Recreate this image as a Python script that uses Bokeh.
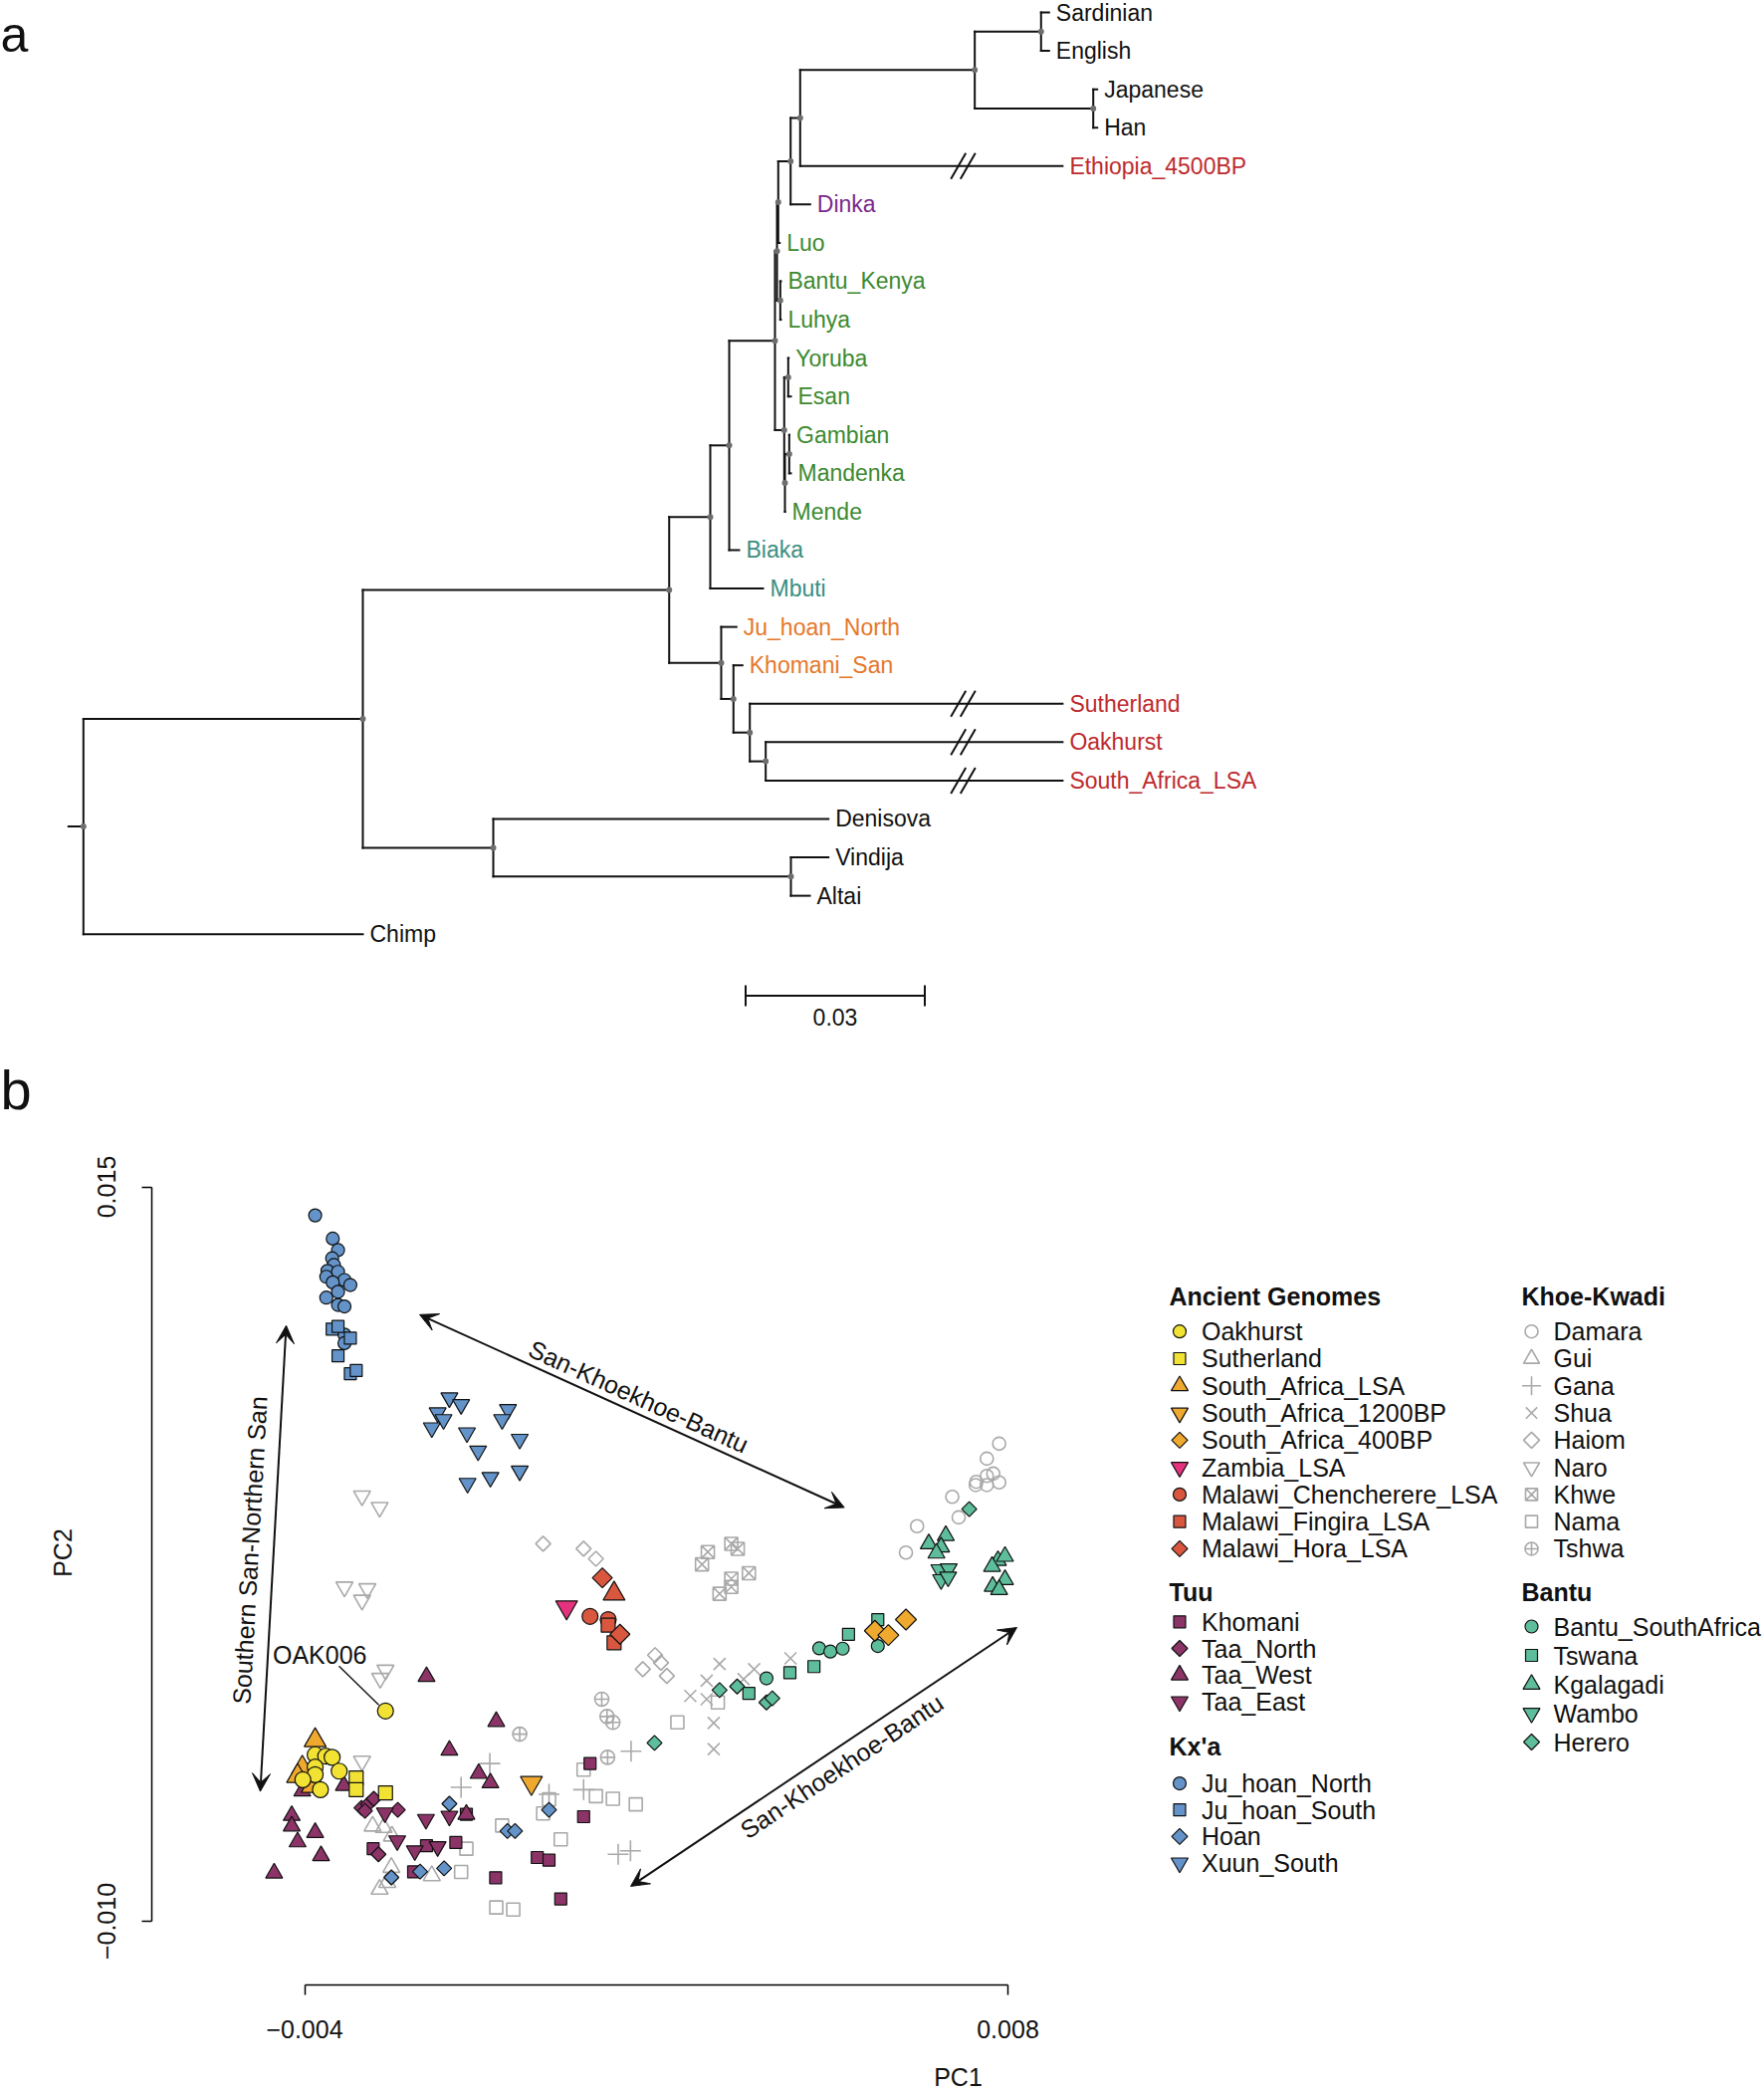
import math
from bokeh.plotting import figure
from bokeh.models import (Range1d, LinearAxis, FixedTicker, CustomJSTickFormatter,
                          Arrow, VeeHead, Label, ColumnDataSource)
from bokeh.embed import file_html
from bokeh.resources import INLINE
from bokeh.core.properties import value

FONT = "Liberation Sans"
PAGE_W = 1772
HA, HB = 1125, 978

# ======================= panel a : tree data =======================
TIPS = ["Sardinian", "English", "Japanese", "Han", "Ethiopia_4500BP", "Dinka",
        "Luo", "Bantu_Kenya", "Luhya", "Yoruba", "Esan", "Gambian", "Mandenka",
        "Mende", "Biaka", "Mbuti", "Ju_hoan_North", "Khomani_San", "Sutherland",
        "Oakhurst", "South_Africa_LSA", "Denisova", "Vindija", "Altai", "Chimp"]
TIP_CLASS = (["eurasian"] * 4 + ["ancient", "nilotic"] + ["bantu_wa"] * 8 +
             ["pygmy"] * 2 + ["khoesan"] * 2 + ["ancient"] * 3 + ["archaic"] * 4)
# (parent, child, branch length)
EDGES = [
    ("root", "A", 0.04678), ("root", "Chimp", 0.04678),
    ("A", "Modern", 0.05129), ("A", "Archaic", 0.02184),
    ("Archaic", "Denisova", 0.05611), ("Archaic", "VA", 0.04983),
    ("VA", "Vindija", 0.00628), ("VA", "Altai", 0.00317),
    ("Modern", "X", 0.00688), ("Modern", "K", 0.00871),
    ("X", "Y", 0.00317), ("X", "Mbuti", 0.00883),
    ("Y", "Z", 0.00766), ("Y", "Biaka", 0.00166),
    ("Z", "E", 0.00034), ("Z", "W", 0.00155),
    ("E", "N1", 0.00021), ("E", "BKL", 0.00055),
    ("N1", "N2", 0.00207), ("N1", "Luo", 0.00024),
    ("N2", "N3", 0.00160), ("N2", "Dinka", 0.00327),
    ("N3", "Eur", 0.02923), ("N3", "Ethiopia_4500BP", 0.04393),
    ("Eur", "SE", 0.01110), ("Eur", "JH", 0.01984),
    ("SE", "Sardinian", 0.00134), ("SE", "English", 0.00134),
    ("JH", "Japanese", 0.00066), ("JH", "Han", 0.00066),
    ("BKL", "Bantu_Kenya", 0.00011), ("BKL", "Luhya", 0.00011),
    ("W", "YE", 0.00067), ("W", "GMM", 0.00012),
    ("YE", "Yoruba", 0.00007), ("YE", "Esan", 0.00045),
    ("GMM", "GM", 0.00072), ("GMM", "Mende", 0.00002),
    ("GM", "Gambian", 0.00003), ("GM", "Mandenka", 0.00028),
    ("K", "Ju_hoan_North", 0.00255), ("K", "K2", 0.00205),
    ("K2", "Khomani_San", 0.00150), ("K2", "K3", 0.00274),
    ("K3", "Sutherland", 0.05236), ("K3", "K4", 0.00266),
    ("K4", "Oakhurst", 0.04970), ("K4", "South_Africa_LSA", 0.04970),
]
TRUNCATED = ["Ethiopia_4500BP", "Sutherland", "Oakhurst", "South_Africa_LSA"]
ROOT_EDGE = 0.0025
SCALE_BAR = 0.03

CLASS_COLOR = {"eurasian": "#111111", "archaic": "#111111", "ancient": "#BE2A2E",
               "nilotic": "#7A2A8C", "bantu_wa": "#3C8A30", "pygmy": "#3A8E80",
               "khoesan": "#E5782B"}

# ======================= panel b : PCA data (units of 1e-3) =======================
OAKHURST_PC1 = [-3.82, -3.64, -3.53, -3.82, -3.82, -4.03, -3.73, -3.41, -2.62]
OAKHURST_PC2 = [-4.33, -4.38, -4.42, -4.75, -5.01, -5.18, -5.52, -4.89, -2.84]
SUTHERLAND_PC1 = [-3.12, -3.12, -2.62]
SUTHERLAND_PC2 = [-5.12, -5.52, -5.63]
SA_LSA_PC1 = [-3.82, -4.04, -4.12, -3.87]
SA_LSA_PC2 = [-3.84, -4.78, -5.06, -5.40]
SA_1200BP_PC1 = [-0.13]
SA_1200BP_PC2 = [-5.29]
SA_400BP_PC1 = [5.73, 5.96, 6.26]
SA_400BP_PC2 = [-0.11, -0.26, 0.27]
ZAMBIA_PC1 = [0.47]
ZAMBIA_PC2 = [0.69]
CHENCHERERE_PC1 = [0.87, 1.18]
CHENCHERERE_PC2 = [0.38, 0.27]
FINGIRA_PC1 = [1.18, 1.28]
FINGIRA_PC2 = [0.08, -0.52]
HORA_PC1 = [1.08, 1.38]
HORA_PC2 = [1.69, -0.23]
MALAWI_OTHER_PC1 = [1.28]
MALAWI_OTHER_PC2 = [1.15]

KHOMANI_PC1 = [-2.83, -1.92, -1.42, -1.24, -2.14, -0.74, -0.03, 0.17, 0.37, 0.76, 0.87]
KHOMANI_PC2 = [-7.53, -7.43, -7.32, -6.36, -8.32, -8.52, -7.83, -7.92, -9.24, -6.44, -4.63]
TAA_NORTH_PC1 = [-3.03, -2.92, -2.82, -2.41, -2.74, -2.97]
TAA_NORTH_PC2 = [-6.14, -6.02, -5.83, -6.21, -7.72, -6.24]
TAA_WEST_PC1 = [-1.92, -0.73, -1.53, -1.03, -0.83, -4.22, -4.22, -3.82, -4.12, -3.72,
                -4.52, -3.33, -1.24, -4.04]
TAA_WEST_PC2 = [-1.67, -3.20, -4.18, -4.97, -5.29, -6.40, -6.76, -6.98, -7.30, -7.77,
                -8.36, -5.38, -6.36, -5.57]
TAA_EAST_PC1 = [-2.63, -1.93, -1.53, -2.42, -2.12, -1.73]
TAA_EAST_PC2 = [-6.31, -6.53, -6.42, -7.26, -7.60, -7.46]

JU_HOAN_NORTH_PC1 = [-3.82, -3.52, -3.43, -3.53, -3.50, -3.61, -3.43, -3.63, -3.32, -3.22,
                     -3.52, -3.43, -3.63, -3.43, -3.32, -3.32, -3.32]
JU_HOAN_NORTH_PC2 = [14.03, 13.24, 12.85, 12.57, 12.34, 12.14, 12.11, 11.94, 11.83, 11.66,
                     11.75, 11.43, 11.23, 10.98, 10.93, 9.97, 9.68]
JU_HOAN_SOUTH_PC1 = [-3.53, -3.43, -3.22, -3.43, -3.22, -3.12]
JU_HOAN_SOUTH_PC2 = [10.16, 10.25, 9.85, 9.25, 8.64, 8.75]
HOAN_PC1 = [-1.53, -0.54, -0.41, -2.03, -1.62, -2.52, 0.17]
HOAN_PC2 = [-6.00, -6.93, -6.93, -8.31, -8.20, -8.51, -6.21]
XUUN_SOUTH_PC1 = [-1.53, -1.33, -1.73, -1.63, -1.83, -1.23, -0.53, -0.63, -1.04, -0.33,
                  -0.83, -0.33, -1.22]
XUUN_SOUTH_PC2 = [7.82, 7.59, 7.31, 7.08, 6.80, 6.63, 7.42, 7.08, 6.01, 6.41,
                  5.11, 5.33, 4.91]

DAMARA_PC1 = [7.85, 7.64, 7.75, 7.64, 7.46, 7.45, 7.64, 7.85, 7.05, 7.16, 6.45, 6.26]
DAMARA_PC2 = [6.26, 5.75, 5.24, 5.16, 4.96, 4.85, 4.85, 4.94, 4.45, 3.75, 3.45, 2.55]
GUI_PC1 = [-2.84, -2.65, -2.51, -2.52, -1.83, -2.72, -2.59]
GUI_PC2 = [-6.76, -6.81, -7.10, -8.17, -8.45, -8.91, -8.68]
GANA_PC1 = [-0.84, -1.33, 0.17, 0.76, 1.57, 1.35, 1.56]
GANA_PC2 = [-4.63, -5.44, -5.68, -5.52, -4.21, -7.72, -7.60]
SHUA_PC1 = [3.08, 2.86, 2.58, 2.86, 3.49, 3.67, 4.29, 2.98, 2.98]
SHUA_PC2 = [-1.24, -1.81, -2.33, -2.44, -1.76, -1.42, -1.05, -3.25, -4.14]
HAIOM_PC1 = [0.07, 0.76, 0.97, 1.77, 1.98, 2.08, 2.18]
HAIOM_PC2 = [2.85, 2.68, 2.34, -1.42, -0.94, -1.20, -1.65]
NARO_PC1 = [-3.02, -2.72, -3.32, -2.93, -3.02, -2.62, -2.71, -3.02]
NARO_PC2 = [4.48, 4.09, 1.38, 1.32, 0.93, -1.45, -1.73, -4.55]
KHWE_PC1 = [2.88, 2.78, 3.28, 3.39, 3.58, 3.28, 3.28, 3.08]
KHWE_PC2 = [2.57, 2.15, 2.85, 2.68, 1.85, 1.66, 1.38, 1.15]
NAMA_PC1 = [2.36, 3.05, 0.76, 0.97, 1.26, 1.65, 0.17, 0.07, -0.63, 0.37, -0.73, -0.44, -1.24, -1.33]
NAMA_PC2 = [-3.23, -2.55, -4.84, -5.74, -5.83, -6.02, -5.85, -6.33, -6.74, -7.21, -9.53, -9.60, -7.53, -8.32]
TSHWA_PC1 = [1.07, 1.16, 1.26, -0.33, 1.17]
TSHWA_PC2 = [-2.44, -3.03, -3.23, -3.63, -4.42]

BANTU_SA_PC1 = [3.88, 4.78, 4.97, 5.18, 5.78]
BANTU_SA_PC2 = [-1.73, -0.71, -0.82, -0.72, -0.63]
TSWANA_PC1 = [3.58, 4.28, 4.69, 5.28, 5.78]
TSWANA_PC2 = [-2.24, -1.54, -1.33, -0.23, 0.27]
KGALAGADI_PC1 = [6.65, 6.94, 6.86, 6.78, 7.83, 7.95, 7.73, 7.95, 7.74, 7.85]
KGALAGADI_PC2 = [2.85, 3.13, 2.74, 2.53, 2.28, 2.42, 2.08, 1.63, 1.40, 1.29]
WAMBO_PC1 = [6.83, 6.99, 6.86, 6.98]
WAMBO_PC2 = [1.97, 2.00, 1.63, 1.72]
HERERO_PC1 = [7.34, 3.08, 3.38, 3.88, 3.98, 1.97]
HERERO_PC2 = [4.03, -2.13, -2.01, -2.55, -2.41, -3.93]

PC_UNIT = 1e-3
PC1_TICKS = [-0.004, 0.008]
PC2_TICKS = [-0.010, 0.015]

# annotation arrows (PC units of 1e-3): (start, end, label, label position, angle deg)
ARROWS = [((-4.314, 10.28), (-4.756, -5.58), "Southern San-Northern San", (-4.936, 2.631), 86.8),
          ((-2.038, 10.65), (5.209, 4.085), "San-Khoekhoe-Bantu", (1.699, 7.864), -24.4),
          ((8.153, 0.0), (1.563, -8.81), "San-Khoekhoe-Bantu", (5.165, -4.725), 33.8)]
OAK006_LABEL = (-3.742, -0.939)
OAK006_LEADER = ((-3.414, -1.312), (-2.735, -2.634))

# ======================= styles =======================
YEL, ORA, PINK, RED = "#F2E234", "#EFA92F", "#E5327E", "#D9573F"
PUR, BLU, TEAL, GRAY = "#8C3468", "#6393C8", "#5EBE9C", "#A9A9A9"

# name, pc1, pc2, marker, color, plot size, legend size, filled
POPS = [
    ("Damara", DAMARA_PC1, DAMARA_PC2, "circle", GRAY, 13, 13, False),
    ("Gui", GUI_PC1, GUI_PC2, "triangle", GRAY, 17, 16, False),
    ("Gana", GANA_PC1, GANA_PC2, "cross", GRAY, 21, 19, False),
    ("Shua", SHUA_PC1, SHUA_PC2, "x", GRAY, 17, 16, False),
    ("Haiom", HAIOM_PC1, HAIOM_PC2, "diamond", GRAY, 15, 16, False),
    ("Naro", NARO_PC1, NARO_PC2, "inverted_triangle", GRAY, 17, 16, False),
    ("Khwe", KHWE_PC1, KHWE_PC2, "square_x", GRAY, 13, 12, False),
    ("Nama", NAMA_PC1, NAMA_PC2, "square", GRAY, 13, 12, False),
    ("Tshwa", TSHWA_PC1, TSHWA_PC2, "circle_cross", GRAY, 14, 13, False),
    ("Bantu_SouthAfrica", BANTU_SA_PC1, BANTU_SA_PC2, "circle", TEAL, 13, 13, True),
    ("Tswana", TSWANA_PC1, TSWANA_PC2, "square", TEAL, 12, 12, True),
    ("Kgalagadi", KGALAGADI_PC1, KGALAGADI_PC2, "triangle", TEAL, 17, 17, True),
    ("Wambo", WAMBO_PC1, WAMBO_PC2, "inverted_triangle", TEAL, 17, 17, True),
    ("Herero", HERERO_PC1, HERERO_PC2, "diamond", TEAL, 15, 16, True),
    ("Khomani", KHOMANI_PC1, KHOMANI_PC2, "square", PUR, 12, 12, True),
    ("Taa_North", TAA_NORTH_PC1, TAA_NORTH_PC2, "diamond", PUR, 15, 16, True),
    ("Taa_West", TAA_WEST_PC1, TAA_WEST_PC2, "triangle", PUR, 17, 17, True),
    ("Taa_East", TAA_EAST_PC1, TAA_EAST_PC2, "inverted_triangle", PUR, 17, 17, True),
    ("Ju_hoan_North", JU_HOAN_NORTH_PC1, JU_HOAN_NORTH_PC2, "circle", BLU, 13, 13, True),
    ("Ju_hoan_South", JU_HOAN_SOUTH_PC1, JU_HOAN_SOUTH_PC2, "square", BLU, 12, 12, True),
    ("Hoan", HOAN_PC1, HOAN_PC2, "diamond", BLU, 15, 16, True),
    ("Xuun_South", XUUN_SOUTH_PC1, XUUN_SOUTH_PC2, "inverted_triangle", BLU, 17, 17, True),
    ("South_Africa_LSA", SA_LSA_PC1, SA_LSA_PC2, "triangle", ORA, 22, 17, True),
    ("South_Africa_1200BP", SA_1200BP_PC1, SA_1200BP_PC2, "inverted_triangle", ORA, 22, 17, True),
    ("South_Africa_400BP", SA_400BP_PC1, SA_400BP_PC2, "diamond", ORA, 21, 16, True),
    ("Oakhurst", OAKHURST_PC1, OAKHURST_PC2, "circle", YEL, 16, 13, True),
    ("Sutherland", SUTHERLAND_PC1, SUTHERLAND_PC2, "square", YEL, 14, 12, True),
    ("Zambia_LSA", ZAMBIA_PC1, ZAMBIA_PC2, "inverted_triangle", PINK, 22, 17, True),
    ("Malawi_Chencherere_LSA", CHENCHERERE_PC1, CHENCHERERE_PC2, "circle", RED, 16, 13, True),
    ("Malawi_Fingira_LSA", FINGIRA_PC1, FINGIRA_PC2, "square", RED, 14, 12, True),
    ("Malawi_Hora_LSA", HORA_PC1, HORA_PC2, "diamond", RED, 20, 16, True),
    ("Malawi_other", MALAWI_OTHER_PC1, MALAWI_OTHER_PC2, "triangle", RED, 22, 17, True),
]
STYLE = {p[0]: p for p in POPS}

LEGEND_GROUPS = [
    ("Ancient Genomes", ["Oakhurst", "Sutherland", "South_Africa_LSA", "South_Africa_1200BP",
                         "South_Africa_400BP", "Zambia_LSA", "Malawi_Chencherere_LSA",
                         "Malawi_Fingira_LSA", "Malawi_Hora_LSA"]),
    ("Tuu", ["Khomani", "Taa_North", "Taa_West", "Taa_East"]),
    ("Kx'a", ["Ju_hoan_North", "Ju_hoan_South", "Hoan", "Xuun_South"]),
    ("Khoe-Kwadi", ["Damara", "Gui", "Gana", "Shua", "Haiom", "Naro", "Khwe", "Nama", "Tshwa"]),
    ("Bantu", ["Bantu_SouthAfrica", "Tswana", "Kgalagadi", "Wambo", "Herero"]),
]
# legend layout in page pixels: title_x, marker_x, text_x, title_y, first_y, step
LEGEND_POS = [(1174, 1184.5, 1206.5, 1301, 1336.7, 27.28),
              (1174, 1184.5, 1206.5, 1598.6, 1628.3, 26.7),
              (1174, 1184.5, 1206.5, 1753.3, 1790.6, 26.6),
              (1528, 1538.0, 1560.0, 1301, 1336.7, 27.28),
              (1528, 1538.0, 1560.0, 1598.6, 1633.0, 29.0)]

# ======================= panel a figure =======================
A_XPX, A_X0 = 6000.0, 83.3     # px per unit branch length, root position (px)
A_YPX, A_Y0 = 38.57, 12.0      # px per tip, first tip (px)
def ax(px): return (px - A_X0) / A_XPX
def ay(py): return (py - A_Y0) / A_YPX

pa = figure(width=PAGE_W, height=HA, output_backend="svg", toolbar_location=None,
            x_range=Range1d(ax(0), ax(PAGE_W)), y_range=Range1d(ay(HA), ay(0)),
            x_axis_type=None, y_axis_type=None, min_border=0, outline_line_color=None)

children, blen = {}, {}
for par, ch, L in EDGES:
    children.setdefault(par, []).append(ch)
    blen[ch] = L
depth = {"root": 0.0}
stack = ["root"]
while stack:
    n = stack.pop()
    for c in children.get(n, []):
        depth[c] = depth[n] + blen[c]
        stack.append(c)
ypos = {t: float(i) for i, t in enumerate(TIPS)}
def node_y(n):
    if n not in ypos:
        ys = [node_y(c) for c in children[n]]
        ypos[n] = sum(ys) / len(ys)
    return ypos[n]
node_y("root")

LINE = "#111111"
hx0 = [depth[p] for p, c, L in EDGES] + [-ROOT_EDGE]
hx1 = [depth[c] for p, c, L in EDGES] + [0.0]
hy = [ypos[c] for p, c, L in EDGES] + [ypos["root"]]
pa.segment(x0=hx0, y0=hy, x1=hx1, y1=hy, line_color=LINE, line_width=2, line_cap="square")
inner = list(children.keys())
vx = [depth[n] for n in inner]
vy0 = [min(ypos[c] for c in children[n]) for n in inner]
vy1 = [max(ypos[c] for c in children[n]) for n in inner]
pa.segment(x0=vx, y0=vy0, x1=vx, y1=vy1, line_color=LINE, line_width=2, line_cap="square")

# axis breaks on truncated branches
brk = ax(967)
bdx, bdy, bgap = 7.5 / A_XPX, 13 / A_YPX, 4.8 / A_XPX
m0x, m0y, m1x, m1y = [], [], [], []
for t in TRUNCATED:
    for s in (-bgap, bgap):
        m0x.append(brk + s - bdx); m0y.append(ypos[t] + bdy)
        m1x.append(brk + s + bdx); m1y.append(ypos[t] - bdy)
pa.segment(x0=m0x, y0=m0y, x1=m1x, y1=m1y, line_color=LINE, line_width=2)

pa.scatter(x=[depth[n] for n in inner], y=[ypos[n] for n in inner], size=6,
           fill_color="#6e6e6e", line_color=None)

tip_src = ColumnDataSource(dict(x=[depth[t] for t in TIPS], y=[ypos[t] for t in TIPS],
                                text=TIPS, color=[CLASS_COLOR[c] for c in TIP_CLASS]))
pa.text(x="x", y="y", text="text", source=tip_src, x_offset=7, text_baseline="middle",
        text_color="color", text_font=value(FONT), text_font_size="23px")

# scale bar
sb_x, sb_y = ax(748.5), ay(999.4)
pa.segment(x0=[sb_x], y0=[sb_y], x1=[sb_x + SCALE_BAR], y1=[sb_y], line_color=LINE, line_width=2)
tk = 10.5 / A_YPX
pa.segment(x0=[sb_x, sb_x + SCALE_BAR], y0=[sb_y - tk] * 2, x1=[sb_x, sb_x + SCALE_BAR],
           y1=[sb_y + tk] * 2, line_color=LINE, line_width=2)
pa.text(x=[sb_x + SCALE_BAR / 2], y=[ay(1021)], text=[f"{SCALE_BAR:g}"], text_align="center",
        text_baseline="middle", text_font=value(FONT), text_font_size="23px", text_color=LINE)

# panel letters
pa.text(x=[ax(0)], y=[ay(34)], text=["a"], text_baseline="middle",
        text_font=value(FONT), text_font_size="50px", text_color=LINE)
pa.text(x=[ax(0)], y=[ay(1094)], text=["b"], text_baseline="middle",
        text_font=value(FONT), text_font_size="56px", text_color=LINE)

# ======================= panel b figure =======================
B_TOP = HA                       # page y of the top of panel b
FRAME_L, FRAME_B = 152, 1993     # page pixel positions of frame edges
B_X0, B_XPX = 541.0, 58875.0     # PC1 = (px - B_X0) / B_XPX
B_Y0, B_YPX = 1634.0, 29500.0    # PC2 = (B_Y0 - py) / B_YPX
def bx_(px): return (px - B_X0) / B_XPX
def by_(py): return (B_Y0 - py) / B_YPX

pb = figure(width=PAGE_W, height=HB, output_backend="svg", toolbar_location=None,
            x_range=Range1d(bx_(FRAME_L), bx_(PAGE_W)),
            y_range=Range1d(by_(FRAME_B), by_(B_TOP)),
            x_axis_type=None, y_axis_type=None, outline_line_color=None,
            min_border_left=FRAME_L, min_border_right=0, min_border_top=0,
            min_border_bottom=B_TOP + HB - FRAME_B)
pb.extra_x_ranges = {"rx": Range1d(FRAME_L, PAGE_W)}
pb.extra_y_ranges = {"ry": Range1d(FRAME_B, B_TOP)}

fmt = CustomJSTickFormatter(code="return (tick < 0 ? '\u2212' : '') + Math.abs(tick).toFixed(3);")
def style_axis(a):
    a.axis_line_width = 1.5
    a.major_tick_line_width = 1.5
    a.major_tick_out = 10
    a.major_tick_in = 0
    a.minor_tick_line_color = None
    a.major_label_text_font = FONT
    a.major_label_text_font_size = "25px"
    a.major_label_text_color = LINE
    a.axis_label_text_font = FONT
    a.axis_label_text_font_size = "25px"
    a.axis_label_text_font_style = "normal"
    a.axis_label_text_color = LINE

xaxis = LinearAxis(ticker=FixedTicker(ticks=PC1_TICKS, minor_ticks=[]), bounds=tuple(PC1_TICKS),
                   formatter=fmt, axis_label="PC1")
style_axis(xaxis)
xaxis.major_label_standoff = 25
xaxis.axis_label_standoff = 22
pb.add_layout(xaxis, "below")

yaxis = LinearAxis(ticker=FixedTicker(ticks=PC2_TICKS, minor_ticks=[]), bounds=tuple(PC2_TICKS),
                   formatter=fmt, axis_label="PC2")
style_axis(yaxis)
yaxis.major_label_orientation = "vertical"
yaxis.major_label_standoff = 27
yaxis.axis_label_standoff = 18
pb.add_layout(yaxis, "left")

def draw(p, xs, ys, marker, color, size, filled, **kw):
    if marker == "diamond":
        m, ang, sz = "square", math.pi / 4, size / math.sqrt(2)
    else:
        m, ang, sz = marker, 0.0, size
    if filled:
        p.scatter(xs, ys, marker=m, angle=ang, size=sz, fill_color=color,
                  line_color=LINE, line_width=1.2, **kw)
    else:
        p.scatter(xs, ys, marker=m, angle=ang, size=sz, fill_color=None,
                  line_color=color, line_width=1.6, **kw)

for name, x1, x2, marker, color, psize, lsize, filled in POPS:
    draw(pb, [v * PC_UNIT for v in x1], [v * PC_UNIT for v in x2], marker, color, psize, filled)

# arrows and their labels
for (s, e, txt, lp, ang) in ARROWS:
    pb.add_layout(Arrow(start=VeeHead(size=18, fill_color=LINE, line_color=LINE, line_width=1),
                        end=VeeHead(size=18, fill_color=LINE, line_color=LINE, line_width=1),
                        x_start=s[0] * PC_UNIT, y_start=s[1] * PC_UNIT,
                        x_end=e[0] * PC_UNIT, y_end=e[1] * PC_UNIT,
                        line_width=2, line_color=LINE))
    pb.add_layout(Label(x=lp[0] * PC_UNIT, y=lp[1] * PC_UNIT, text=txt, angle=math.radians(ang),
                        text_align="center", text_baseline="middle", text_font=FONT,
                        text_font_size="25px", text_color=LINE))
pb.segment(x0=[OAK006_LEADER[0][0] * PC_UNIT], y0=[OAK006_LEADER[0][1] * PC_UNIT],
           x1=[OAK006_LEADER[1][0] * PC_UNIT], y1=[OAK006_LEADER[1][1] * PC_UNIT],
           line_color=LINE, line_width=1.4)
pb.add_layout(Label(x=OAK006_LABEL[0] * PC_UNIT, y=OAK006_LABEL[1] * PC_UNIT, text="OAK006",
                    text_align="center", text_baseline="middle", text_font=FONT,
                    text_font_size="25px", text_color=LINE))

# legend (drawn in page-pixel extra ranges)
for (title, names), (tx, mx, lx, ty, fy, step) in zip(LEGEND_GROUPS, LEGEND_POS):
    pb.text(x=[tx], y=[ty], text=[title], text_baseline="middle", text_font=value(FONT),
            text_font_size="25px", text_font_style="bold", text_color=LINE,
            x_range_name="rx", y_range_name="ry")
    ys = [fy + i * step for i in range(len(names))]
    for nm, yy in zip(names, ys):
        _, _, _, marker, color, psize, lsize, filled = STYLE[nm]
        draw(pb, [mx], [yy], marker, color, lsize, filled, x_range_name="rx", y_range_name="ry")
    pb.text(x=[lx] * len(names), y=ys, text=names, text_baseline="middle",
            text_font=value(FONT), text_font_size="25px", text_color=LINE,
            x_range_name="rx", y_range_name="ry")

open("out.html", "w").write(file_html([pa, pb], INLINE))
